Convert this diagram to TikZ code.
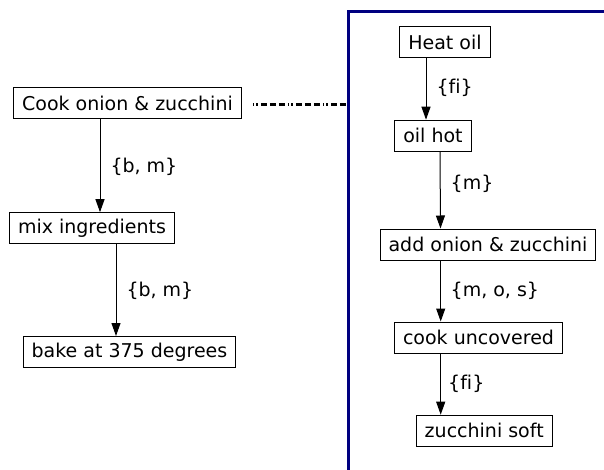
\documentclass[tikz,border=0pt]{standalone}
\usepackage{fontspec}
\setmainfont[Ligatures=NoCommon]{DejaVu Sans}
\usetikzlibrary{arrows.meta}
\definecolor{framenavy}{RGB}{0,0,128}
\tikzset{
  stepbox/.style={draw=black, line width=1pt, minimum height=31pt, inner xsep=8.5pt, inner ysep=0pt, font=\fontsize{19}{22}\selectfont},
  arr/.style={draw=black, line width=1pt, -{Triangle[length=13pt,width=9pt]}},
  lbl/.style={anchor=west, inner sep=0pt, font=\fontsize{19}{22}\selectfont},
  dashline/.style={line width=3pt, dash pattern=on 1.5pt off 2pt on 1.5pt off 3pt on 6pt off 3pt on 6pt off 3pt on 6pt off 3pt},
  frameline/.style={draw=framenavy, line width=3pt}
}
\begin{document}
\begin{tikzpicture}[x=1pt,y=-1pt]
\useasboundingbox (0,0) rectangle (604,470);
% cluster frame
\draw[frameline] (348.3,470) -- (348.3,11.7) -- (604,11.7);
\coordinate (fr) at (347,104.5);
% left chain
\node[stepbox] (cook) at (127.5,103.5) {Cook onion \& zucchini};
\node[stepbox] (mix) at (92,228.2) {mix ingredients};
\node[stepbox] (bake) at (129.5,352) {bake at 375 degrees};
% right chain
\node[stepbox] (heat) at (445,42.5) {Heat oil};
\node[stepbox] (hot) at (433,135.7) {oil hot};
\node[stepbox] (add) at (488,244.5) {add onion \& zucchini};
\node[stepbox] (unc) at (478.5,337.5) {cook uncovered};
\node[stepbox] (soft) at (484.2,430.7) {zucchini soft};
% edges
\draw[arr] ([xshift=-27.5pt]cook.south) -- ([xshift=8pt]mix.north) node[lbl, pos=0.5, xshift=10pt, yshift=-1pt] {\{b, m\}};
\draw[arr] ([xshift=24pt]mix.south) -- ([xshift=-13.5pt]bake.north) node[lbl, pos=0.5, xshift=10pt, yshift=-1pt] {\{b, m\}};
\draw[arr] ([xshift=-19pt]heat.south) -- ([xshift=-7pt]hot.north) node[lbl, pos=0.5, xshift=10pt, yshift=1pt] {\{fi\}};
\draw[arr] ([xshift=7pt]hot.south) -- ([xshift=-47.5pt]add.north) node[lbl, pos=0.42, xshift=10pt] {\{m\}};
\draw[arr] ([xshift=-47.3pt]add.south) -- ([xshift=-37.8pt]unc.north) node[lbl, pos=0.5, xshift=9.5pt] {\{m, o, s\}};
\draw[arr] ([xshift=-37.8pt]unc.south) -- ([xshift=-43.5pt]soft.north) node[lbl, pos=0.5, xshift=7pt] {\{fi\}};
% dashed link to cluster
\draw[dashline] ([xshift=11pt,yshift=-1pt]cook.east) -- (fr);
\end{tikzpicture}
\end{document}
